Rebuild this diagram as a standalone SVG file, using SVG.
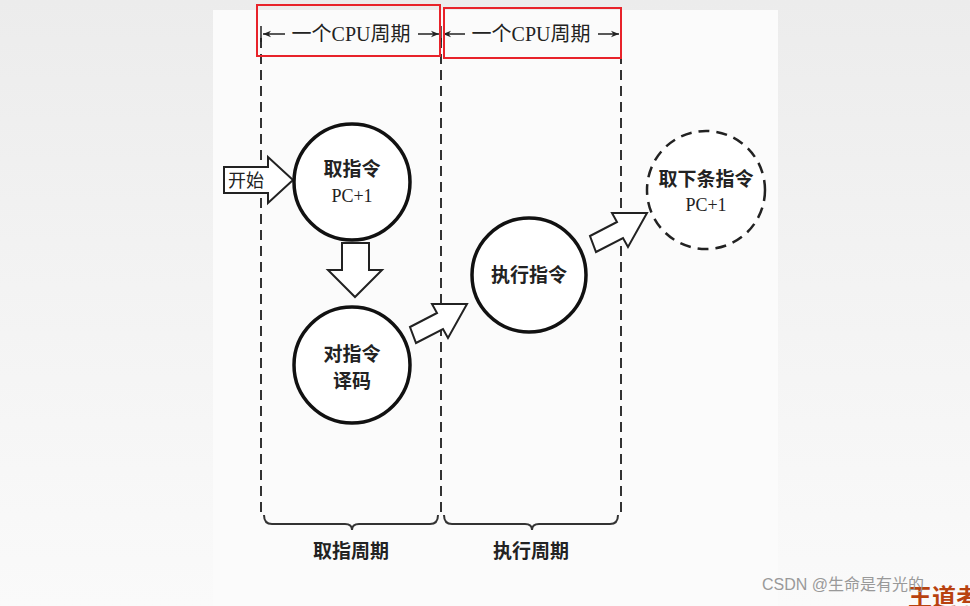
<svg xmlns="http://www.w3.org/2000/svg" width="970" height="606" viewBox="0 0 970 606">
<defs>
<linearGradient id="bg" x1="0" y1="0" x2="0" y2="1"><stop offset="0" stop-color="#ececec"/><stop offset="0.4" stop-color="#f2f2f2"/><stop offset="1" stop-color="#fafafa"/></linearGradient>
<marker id="ah" viewBox="0 0 10 10" refX="10" refY="5" markerWidth="10" markerHeight="8" orient="auto-start-reverse" markerUnits="userSpaceOnUse"><path d="M0,1 L10,5 L0,9 L3,5 Z" fill="#222"/></marker>
</defs>
<style>
.t{font-family:"Noto Sans CJK SC","Liberation Serif",serif;fill:#222;text-anchor:middle}
.s{font-family:"Liberation Serif","Noto Sans CJK SC",serif;fill:#222;text-anchor:middle}
.dl{stroke:#333;stroke-width:2;stroke-dasharray:10,6;fill:none}
.c{fill:#fff;stroke:#111;stroke-width:3.5}
.ar{fill:#fff;stroke:#222;stroke-width:2;stroke-linejoin:miter}
.red{fill:none;stroke:#e8232a;stroke-width:2}
</style>
<rect width="970" height="606" fill="url(#bg)"/>
<rect x="213" y="10" width="565" height="596" fill="#fbfbfb"/>
<g id="connectors">
<line class="dl" x1="261" y1="38" x2="261" y2="515"/>
<line class="dl" x1="441" y1="38" x2="441" y2="515"/>
<line class="dl" x1="621" y1="38" x2="621" y2="515"/>
<path d="M264,515 Q264,524 272,524 L345,524 Q352,524 352,530 Q352,524 359,524 L430,524 Q438,524 438,515" fill="none" stroke="#333" stroke-width="2"/>
<path d="M444,515 Q444,524 452,524 L525,524 Q532,524 532,530 Q532,524 539,524 L610,524 Q618,524 618,515" fill="none" stroke="#333" stroke-width="2"/>
<line x1="261" y1="26" x2="261" y2="42" stroke="#222" stroke-width="1.5"/>
<line x1="441" y1="26" x2="441" y2="42" stroke="#222" stroke-width="1.5"/>
<line x1="621" y1="26" x2="621" y2="42" stroke="#222" stroke-width="1.5"/>
<line x1="263" y1="34" x2="285" y2="34" stroke="#222" stroke-width="1.5" marker-start="url(#ah)"/>
<line x1="418" y1="34" x2="439" y2="34" stroke="#222" stroke-width="1.5" marker-end="url(#ah)"/>
<line x1="443" y1="34" x2="465" y2="34" stroke="#222" stroke-width="1.5" marker-start="url(#ah)"/>
<line x1="598" y1="34" x2="619" y2="34" stroke="#222" stroke-width="1.5" marker-end="url(#ah)"/>
<path class="ar" d="M224,167 L268,167 L268,157 L293,180 L268,203 L268,193 L224,193 Z"/>
<path class="ar" d="M342,243 L369,243 L369,270 L382,270 L355,297 L328,270 L342,270 Z"/>
<path class="ar" d="M410,327 L437,313 L432,304 L467,304 L448,338 L443,329 L416,343 Z"/>
<path class="ar" d="M590,236 L617,222 L612,213 L647,213 L628,247 L623,238 L596,252 Z"/>
</g>
<g id="labels">
<text class="s" x="351" y="41" font-size="20">一个CPU周期</text>
<text class="s" x="531" y="41" font-size="20">一个CPU周期</text>
<rect class="red" x="257" y="5" width="183" height="51"/>
<rect class="red" x="444" y="8" width="177" height="50"/>
<text class="t" x="351" y="558" font-size="19" font-weight="bold">取指周期</text>
<text class="t" x="531" y="558" font-size="19" font-weight="bold">执行周期</text>
</g>
<g id="start"><text class="t" x="246" y="187" font-size="18">开始</text></g>
<g id="fetch"><circle class="c" cx="352" cy="182" r="58"/><text class="t" x="352" y="176" font-size="19" font-weight="bold">取指令</text><text class="s" x="352" y="202" font-size="18">PC+1</text></g>
<g id="decode"><circle class="c" cx="352" cy="365" r="58"/><text class="t" x="352" y="361" font-size="19" font-weight="bold">对指令</text><text class="t" x="352" y="388" font-size="19" font-weight="bold">译码</text></g>
<g id="exec"><circle class="c" cx="529" cy="275" r="57"/><text class="t" x="529" y="282" font-size="19" font-weight="bold">执行指令</text></g>
<g id="next"><circle cx="706" cy="190" r="59" fill="#fff" stroke="#222" stroke-width="2.5" stroke-dasharray="11,7"/><text class="t" x="706" y="186" font-size="19" font-weight="bold">取下条指令</text><text class="s" x="706" y="211" font-size="18">PC+1</text></g>
<text x="908" y="606" font-family="Noto Sans CJK SC,sans-serif" font-size="24" font-weight="bold" fill="#b8420f">王道考</text>
<text x="762" y="590" font-family="Liberation Sans,Noto Sans CJK SC,sans-serif" font-size="16" fill="#999">CSDN @生命是有光的</text>
</svg>
